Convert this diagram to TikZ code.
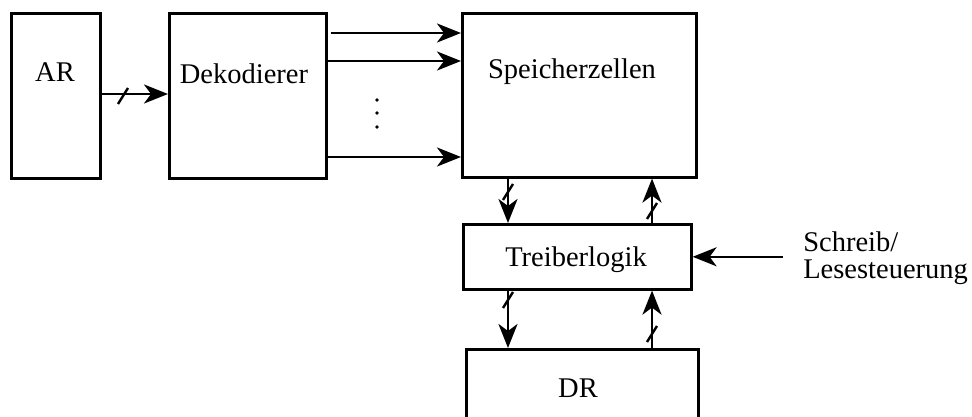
\documentclass[tikz,border=0pt]{standalone}
\usepackage{fontspec}
\setmainfont{Liberation Serif}
\usetikzlibrary{arrows.meta,calc}
\begin{document}
\begin{tikzpicture}[x=1pt,y=-1pt,
  line width=2.6pt,
  font=\fontsize{28.5}{27}\selectfont,
  blockbox/.style={draw, rectangle, inner sep=0pt, anchor=north west},
  arr/.style={-{Stealth[length=24pt,width=19pt,inset=7pt]}},
  slash/.pic={\draw[line width=2.4pt] (-5,8) -- (5,-8);}
]
\useasboundingbox (0,0) rectangle (972,417);

% blocks
\node[blockbox, minimum width=89pt, minimum height=165pt] (ar) at (10,12) {};
\node[blockbox, minimum width=157pt, minimum height=165pt] (dek) at (168,12) {};
\node[blockbox, minimum width=234pt, minimum height=164pt] (spz) at (461,12) {};
\node[blockbox, minimum width=228pt, minimum height=65pt] (tl) at (462,223) {};
\node[blockbox, minimum width=232pt, minimum height=70pt] (dr) at (465,348) {};

% block labels
\node (tar) at (55,72) {AR};
\node (tdek) at (244,74) {Dekodierer};
\node (tspz) at (572,72) {Speicherzellen};
\node (ttl) at (576,260) {Treiberlogik};
\node (tdr) at (578,388) {DR};
\node[anchor=west, align=left, inner sep=0pt] (rw) at (802,258) {Schreib/\\Lesesteuerung};

% address path AR -> decoder
\draw[arr] (ar.east |- 0,94) -- (dek.west |- 0,94);
\pic at (123,96) {slash};

% word lines
\coordinate (w1) at (0,33);
\coordinate (w2) at (0,61);
\coordinate (w3) at (0,157);
\draw[arr] ($(dek.east |- w1)+(3,0)$) -- (spz.west |- w1);
\draw[arr] (dek.east |- w2) -- (spz.west |- w2);
\draw[arr] (dek.east |- w3) -- (spz.west |- w3);
\foreach \yy in {100,113,127} \fill (377,\yy) circle (1.8pt);

% data paths between cells, driver logic and DR
\coordinate (cl) at (508,0);
\coordinate (cr) at (652,0);
\draw[arr] (spz.south -| cl) -- (tl.north -| cl);
\pic at (508,192) {slash};
\draw[arr] (tl.north -| cr) -- (spz.south -| cr);
\pic at (652,211) {slash};
\draw[arr] (tl.south -| cl) -- (dr.north -| cl);
\pic at (508,300) {slash};
\draw[arr] (dr.north -| cr) -- (tl.south -| cr);
\pic at (652,334) {slash};

% read/write control
\draw[arr] ($(rw.west |- tl.east)+(-19,0)$) -- (tl.east);
\end{tikzpicture}
\end{document}
